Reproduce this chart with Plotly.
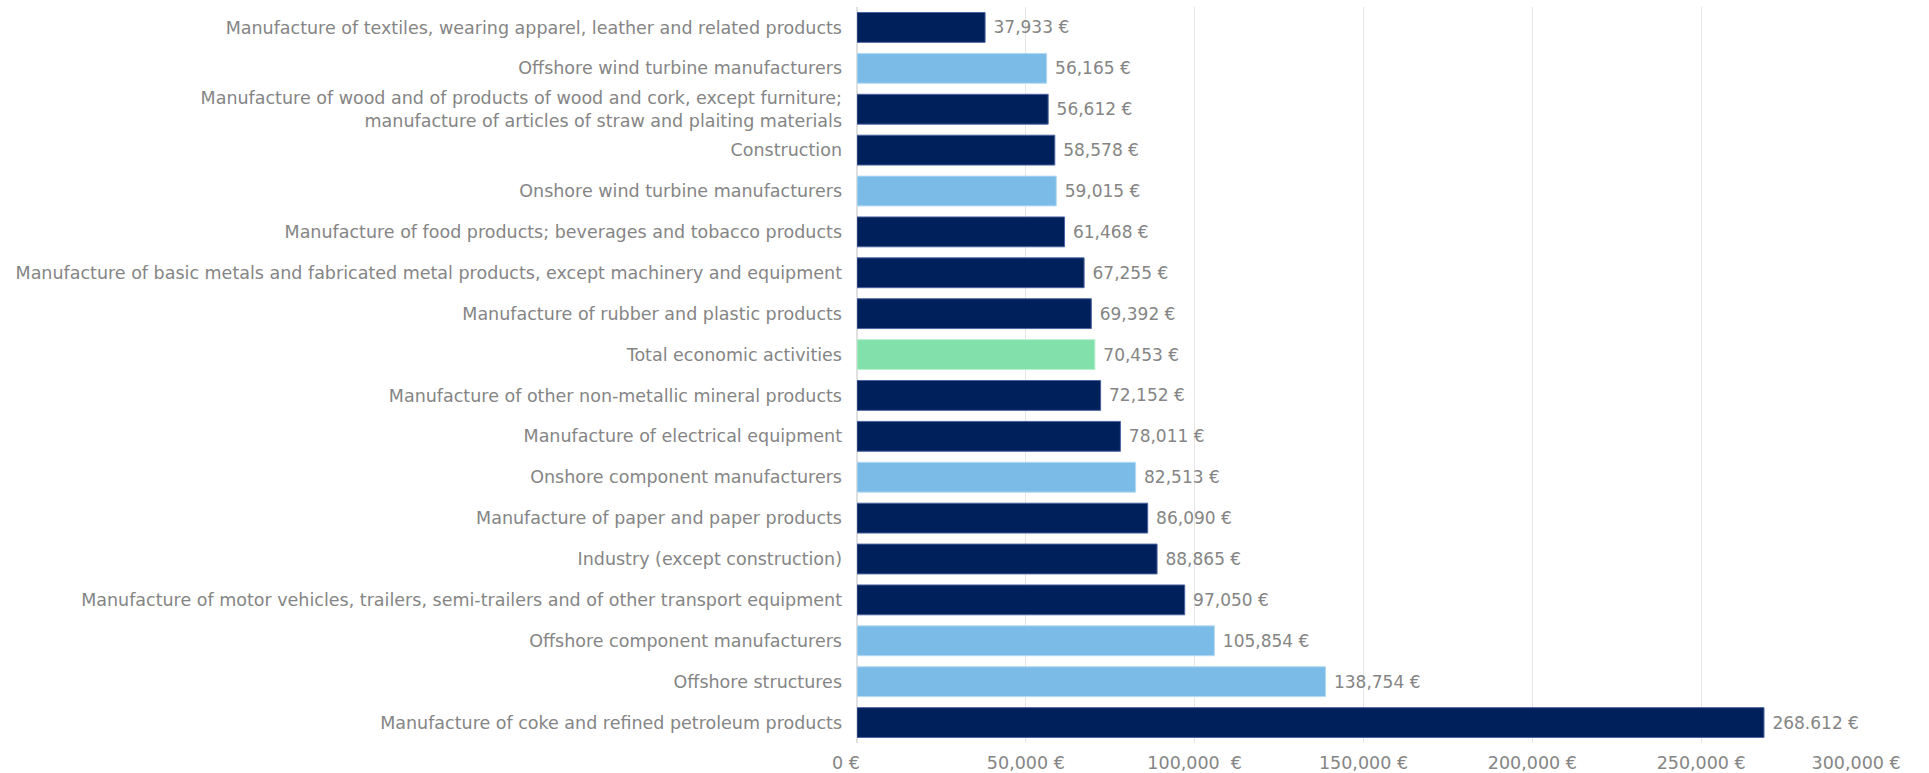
import plotly.graph_objects as go

# Categories listed top to bottom
categories = [
    "Manufacture of textiles, wearing apparel, leather and related products",
    "Offshore wind turbine manufacturers",
    "Manufacture of wood and of products of wood and cork, except furniture;<br>manufacture of articles of straw and plaiting materials",
    "Construction",
    "Onshore wind turbine manufacturers",
    "Manufacture of food products; beverages and tobacco products",
    "Manufacture of basic metals and fabricated metal products, except machinery and equipment",
    "Manufacture of rubber and plastic products",
    "Total economic activities",
    "Manufacture of other non-metallic mineral products",
    "Manufacture of electrical equipment",
    "Onshore component manufacturers",
    "Manufacture of paper and paper products",
    "Industry (except construction)",
    "Manufacture of motor vehicles, trailers, semi-trailers and of other transport equipment",
    "Offshore component manufacturers",
    "Offshore structures",
    "Manufacture of coke and refined petroleum products",
]

values = [37933, 56165, 56612, 58578, 59015, 61468, 67255, 69392, 70453,
          72152, 78011, 82513, 86090, 88865, 97050, 105854, 138754, 268612]

value_labels = ["37,933 €", "56,165 €", "56,612 €", "58,578 €", "59,015 €",
                "61,468 €", "67,255 €", "69,392 €", "70,453 €", "72,152 €",
                "78,011 €", "82,513 €", "86,090 €", "88,865 €", "97,050 €",
                "105,854 €", "138,754 €", "268.612 €"]

# Group of each row: sector average, wind industry, or overall total
groups = ["sector", "wind", "sector", "sector", "wind", "sector", "sector",
          "sector", "total", "sector", "sector", "wind", "sector", "sector",
          "sector", "wind", "wind", "sector"]

tick_values = [0, 50000, 100000, 150000, 200000, 250000, 300000]
tick_labels = ["0 €", "50,000 €", "100,000\u00a0 €", "150,000 €", "200,000 €",
               "250,000 €", "300,000 €"]

fill = {"sector": "#00205C", "wind": "#7ABCE7", "total": "#82E1AA"}
edge = {"sector": "#4A64A0", "wind": "#B5DAF3", "total": "#B8F0CF"}

FONT = "DejaVu Sans"
GREY = "#858585"
NBSP = "\u00a0"

# The outer tick labels are nudged inward so they stay inside the frame
shown_ticks = list(tick_labels)
shown_ticks[0] = shown_ticks[0] + NBSP * 4
shown_ticks[-1] = shown_ticks[-1] + NBSP * 5

fig = go.Figure(
    go.Bar(
        x=values,
        y=categories,
        orientation="h",
        marker=dict(
            color=[fill[g] for g in groups],
            line=dict(color=[edge[g] for g in groups], width=1),
        ),
        text=value_labels,
        texttemplate=NBSP + "%{text}",
        textposition="outside",
        cliponaxis=False,
        textfont=dict(family=FONT, color=GREY, size=17),
        width=0.73,
    )
)

fig.update_layout(
    width=1929,
    height=773,
    margin=dict(l=857, r=59, t=7, b=30, autoexpand=False),
    paper_bgcolor="white",
    plot_bgcolor="white",
    font=dict(family=FONT, color=GREY, size=17),
    showlegend=False,
)

fig.update_xaxes(
    range=[0, 300000],
    tickvals=tick_values,
    ticktext=shown_ticks,
    ticklabeloverflow="allow",
    showgrid=True,
    gridcolor="#E6E6E6",
    gridwidth=1,
    zeroline=True,
    zerolinecolor="#E0E0E0",
    showline=False,
    tickfont=dict(family=FONT, size=17.5, color=GREY),
    ticklabelstandoff=7,
)

fig.update_yaxes(
    autorange="reversed",
    showgrid=False,
    ticks="",
    tickfont=dict(family=FONT, size=17.5, color=GREY),
    ticklabelstandoff=14,
)

fig.write_html("out.html")
